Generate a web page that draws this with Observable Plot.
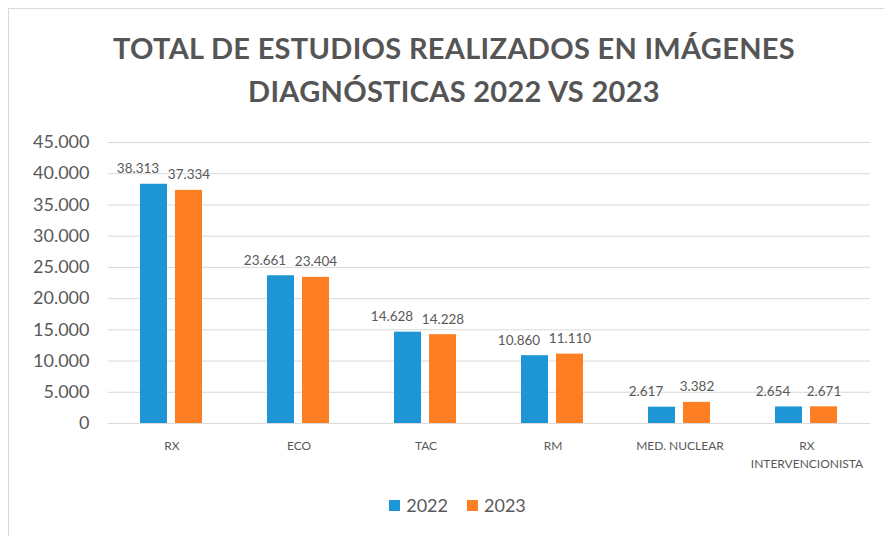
<!DOCTYPE html>
<html>
<head>
<meta charset="utf-8">
<script src="https://cdn.jsdelivr.net/npm/d3@7"></script>
<script src="https://cdn.jsdelivr.net/npm/@observablehq/plot@0.6"></script>
<style>
  html, body { margin: 0; padding: 0; background: #fff; }
  #wrap { position: relative; width: 884px; height: 536px; overflow: hidden; font-family: Lato, sans-serif; }
  #frame { position: absolute; left: 8px; top: 8px; width: 900px; height: 600px; border-left: 1px solid #d9d9d9; border-top: 1px solid #d9d9d9; }
  #title { position: absolute; left: 12px; top: 26px; width: 884px; text-align: center; font-weight: 700; font-size: 29px; letter-spacing: 0.3px; line-height: 43px; color: #555; }
  #chart { position: absolute; left: 0; top: 120px; }
  #legend { position: absolute; left: 0; top: 494px; width: 915px; display: flex; justify-content: center; gap: 19px; font-size: 18px; color: #595959; }
  .item { display: flex; align-items: center; gap: 6px; }
  .sw { width: 11px; height: 11px; display: inline-block; }
</style>
</head>
<body>
<div id="wrap">
  <div id="frame"></div>
  <div id="title">TOTAL DE ESTUDIOS REALIZADOS EN IMÁGENES<br>DIAGNÓSTICAS 2022 VS 2023</div>
  <div id="chart"></div>
  <div id="legend"></div>
</div>
<script>
const categories = ["RX", "ECO", "TAC", "RM", "MED. NUCLEAR", "RX INTERVENCIONISTA"];
const years = ["2022", "2023"];
const values2022 = [38313, 23661, 14628, 10860, 2617, 2654];
const values2023 = [37334, 23404, 14228, 11110, 3382, 2671];
const yTicks = [0, 5000, 10000, 15000, 20000, 25000, 30000, 35000, 40000, 45000];
const colors = ["#1e96d6", "#fd7e23"];

const locale = d3.formatLocale({decimal: ",", thousands: ".", grouping: [3], currency: ["", ""]});
const fmt = locale.format(",d");

const data = categories.flatMap((c, i) => [
  {cat: c, year: years[0], value: values2022[i]},
  {cat: c, year: years[1], value: values2023[i]}
]);

const chart = Plot.plot({
  width: 884,
  height: 360,
  marginLeft: 107,
  marginRight: 13,
  marginTop: 22,
  marginBottom: 57,
  style: {fontFamily: "Lato, sans-serif", color: "#595959", background: "transparent", overflow: "visible"},
  fx: {domain: categories, padding: 0, label: null},
  x: {domain: years, paddingInner: 0.222, paddingOuter: 0.878, axis: null},
  y: {domain: [0, 45000], axis: null},
  color: {domain: years, range: colors},
  marks: [
    Plot.gridY(yTicks, {stroke: "#d9d9d9", strokeOpacity: 1}),
    Plot.axisY(yTicks, {tickSize: 0, tickPadding: 19, fontSize: 18, tickFormat: fmt, label: null}),
    Plot.axisFx({anchor: "bottom", tickSize: 0, tickPadding: 14, fontSize: 12, lineHeight: 1.5, label: null,
      tickFormat: d => d === "RX INTERVENCIONISTA" ? "RX\nINTERVENCIONISTA" : d}),
    Plot.barY(data, {fx: "cat", x: "year", y: "value", fill: "year"}),
    Plot.text(data, {fx: "cat", x: "year", y: "value", text: d => fmt(d.value),
      lineAnchor: "bottom", dy: -11, fontSize: 13.5, fill: "#595959",
      filter: d => d.year === years[1]}),
    Plot.text(data, {fx: "cat", x: "year", y: "value", text: d => fmt(d.value),
      lineAnchor: "bottom", dy: -11, dx: -16, fontSize: 13.5, fill: "#595959",
      filter: d => d.year === years[0]})
  ]
});
document.getElementById("chart").appendChild(chart);

const legend = document.getElementById("legend");
years.forEach((y, i) => {
  const item = document.createElement("div");
  item.className = "item";
  const sw = document.createElement("span");
  sw.className = "sw";
  sw.style.background = colors[i];
  const t = document.createElement("span");
  t.textContent = y;
  item.appendChild(sw);
  item.appendChild(t);
  legend.appendChild(item);
});
</script>
</body>
</html>
